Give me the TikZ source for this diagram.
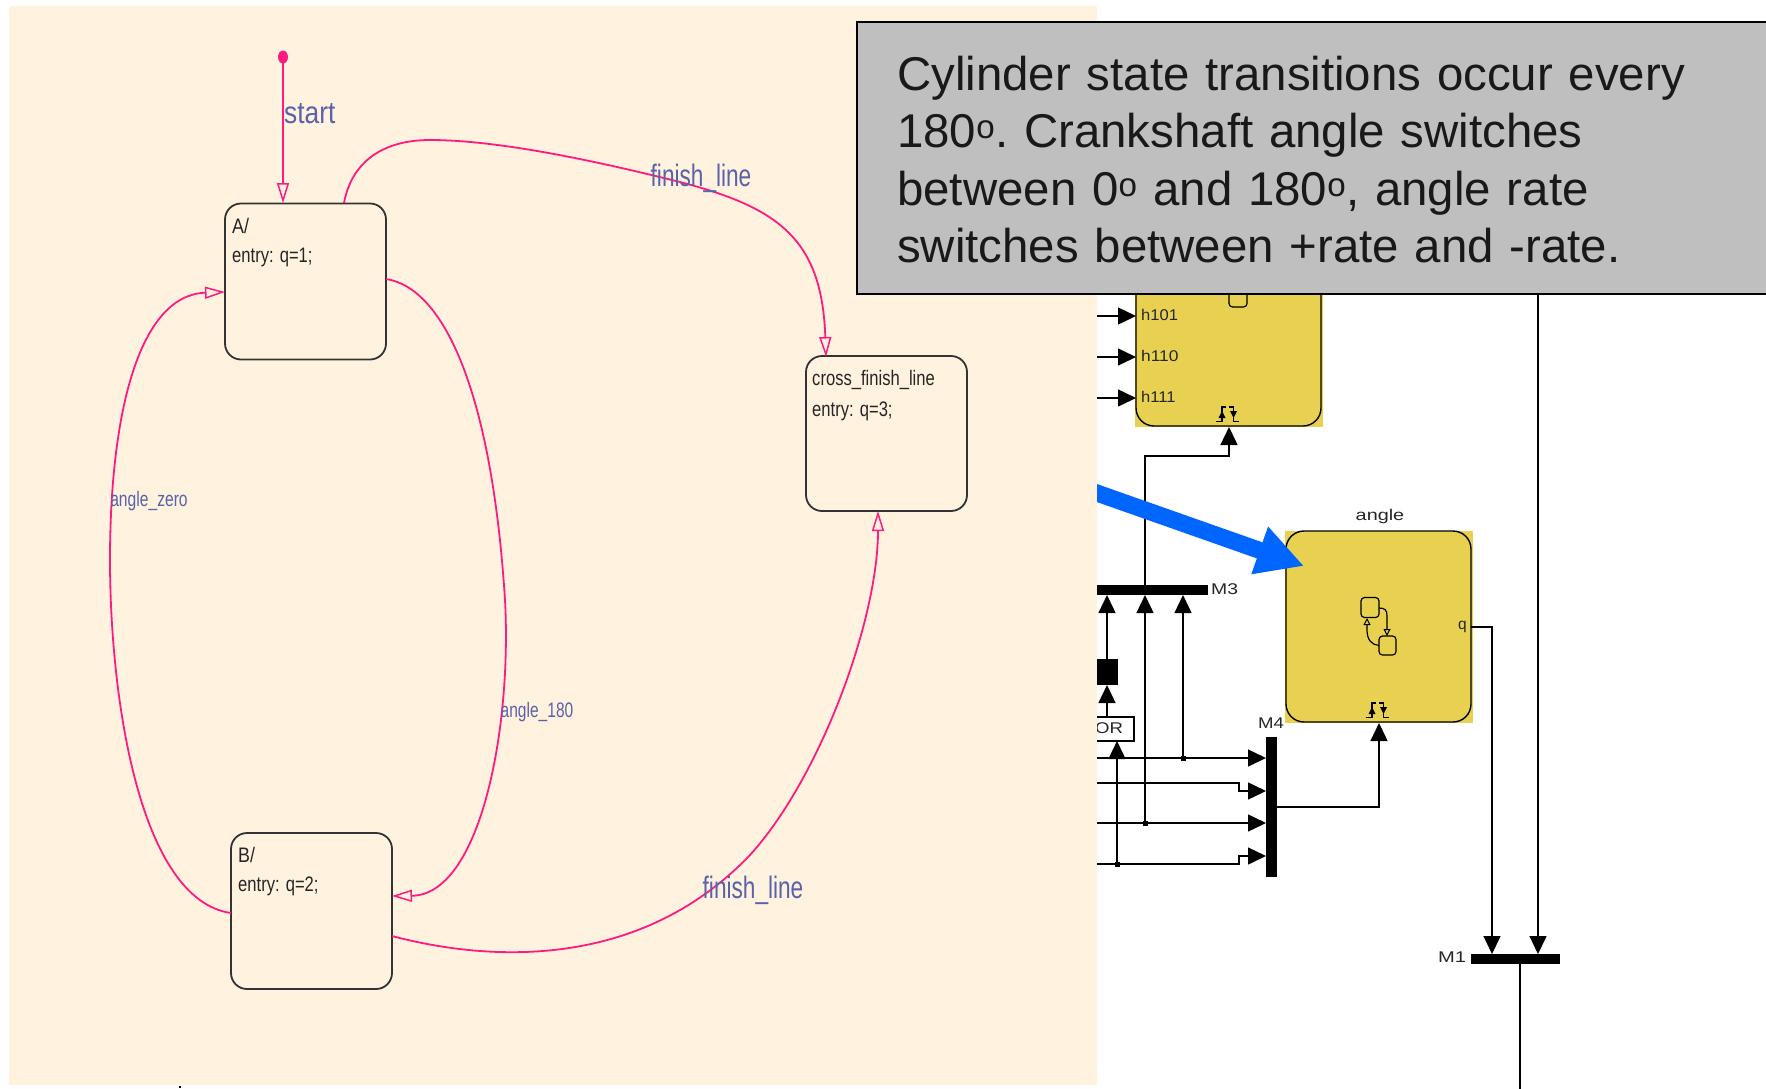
\documentclass[tikz,border=0pt]{standalone}
\usepackage{fontspec}
\setmainfont{Liberation Sans}
\usetikzlibrary{arrows.meta}
\definecolor{panel}{HTML}{FFF3E0}
\definecolor{blockyellow}{HTML}{E8D150}
\definecolor{boxgray}{HTML}{BFBFBF}
\definecolor{transpink}{HTML}{FF1A80}
\definecolor{labelblue}{HTML}{5A62A8}
\definecolor{bluearrow}{HTML}{0066FF}
\newcommand\squash[2][.73]{\scalebox{#1}[1]{#2}}
\tikzset{
  statebox/.style={draw=black!80,line width=1.8pt,rounded corners=16pt,minimum width=161pt,minimum height=156pt,outer sep=0pt,inner sep=0pt},
  trans/.style={draw=transpink,line width=1.8pt,-{Triangle[open,fill=panel,length=20pt,width=12pt,line width=1.5pt]}},
  translabel/.style={text=labelblue,font=\fontsize{31}{31}\selectfont,inner sep=0pt},
  smalllabel/.style={text=labelblue,font=\fontsize{21}{21}\selectfont,inner sep=0pt},
  statetext/.style={text=black!85,font=\fontsize{21}{21}\selectfont,inner sep=0pt,anchor=west},
  block/.style={draw=black,line width=1.4pt,fill=blockyellow,rounded corners=18pt,outer sep=0pt,inner sep=0pt},
  wire/.style={draw=black,line width=1.4pt},
  sig/.style={wire,-{Triangle[length=18pt,width=17pt]}},
  bar/.style={fill=black,inner sep=0pt,outer sep=0pt},
  simtext/.style={text=black!85,font=\fontsize{15.5}{15.5}\selectfont,inner sep=0pt},
  junction/.style={fill=black,inner sep=0pt,minimum size=5pt,outer sep=0pt},
  mini/.style={draw=black,line width=1.2pt,rounded corners=3.5pt,inner sep=0pt,outer sep=0pt},
  miniarrow/.style={draw=black,line width=1.2pt,-{Triangle[open,length=7pt,width=7pt,line width=1pt]}},
  trig/.pic={
    \draw[black,line width=1.5pt] (-11.5,14.5) -- (-5.5,14.5) -- (-5.5,0) -- (-1.5,0);
    \draw[black,line width=1.5pt] (1.5,0) -- (6,0) -- (6,14.5) -- (11.5,14.5);
    \fill[black] (-5.5,4) -- (-9,11) -- (-2,11) -- cycle;
    \fill[black] (6,11) -- (2.5,4) -- (9.5,4) -- cycle;
  },
}
\begin{document}
\begin{tikzpicture}[x=1pt,y=-1pt]
\useasboundingbox (0,0) rectangle (1766,1088);
\fill[white] (0,0) rectangle (1766,1088);

% ---- Simulink diagram, right part
\fill[blockyellow] (1135,240) rectangle (1323,427);
\node[block,minimum width=185pt,minimum height=186pt] (top) at (1228.5,333) {};
\node[mini,minimum width=18pt,minimum height=40pt] (topicon) at (1238,287) {};
\pic at (1227.5,407) {trig};
\node[simtext,anchor=west] (h101) at (1141,315) {\squash[1.07]{h101}};
\node[simtext,anchor=west] (h110) at (1141,356) {\squash[1.12]{h110}};
\node[simtext,anchor=west] (h111) at (1141,397) {\squash[1.07]{h111}};
\coordinate (in101) at (1080,316);
\coordinate (in110) at (1080,357);
\coordinate (in111) at (1080,398);
\coordinate (ph101) at (1136,316);
\coordinate (ph110) at (1136,357);
\coordinate (ph111) at (1136,398);
\draw[sig] (in101) -- (ph101);
\draw[sig] (in110) -- (ph110);
\draw[sig] (in111) -- (ph111);

\fill[blockyellow] (1285,531) rectangle (1473,723);
\node[block,minimum width=185pt,minimum height=191pt] (angle) at (1378.5,626.5) {};
\node[simtext] (anglelabel) at (1380,516) {\squash[1.28]{angle}};
\node[simtext,anchor=east] (q) at (1467,627) {q};
\pic at (1377.5,703) {trig};
\node[mini,minimum width=18pt,minimum height=20pt] (miniA) at (1370,607.5) {};
\node[mini,minimum width=17pt,minimum height=19pt] (miniB) at (1387.5,645.5) {};
\coordinate (miniAout) at (1379,608);
\coordinate (miniBin) at (1387,636);
\draw[miniarrow] (miniAout) .. controls (1385,608) and (1387,610) .. (1387,616) -- (miniBin);
\draw[miniarrow] (miniB.west) .. controls (1372,645) and (1367,640) .. (1367,630) -- (1367,618);

% M3
\node[bar,minimum width=141pt,minimum height=10pt] (M3) at (1137.5,590) {};
\node[simtext,anchor=west] (M3label) at (1211,589) {\squash[1.25]{M3}};
% M4
\node[bar,minimum width=11pt,minimum height=140pt] (M4) at (1271.5,807) {};
\node[simtext] (M4label) at (1271,723) {\squash[1.2]{M4}};
% M1
\node[bar,minimum width=89pt,minimum height=10pt] (M1) at (1515.5,959) {};
\node[simtext] (M1label) at (1452,957) {\squash[1.3]{M1}};
% black square and OR
\node[bar,minimum width=31pt,minimum height=26pt] (sq) at (1102.5,672) {};
\node[draw=black,line width=1.2pt,fill=white,minimum width=57pt,minimum height=24pt,inner sep=0pt,outer sep=0pt,font=\fontsize{15.5}{15.5}\selectfont,text=black!85] (OR) at (1105.5,729) {\raisebox{2pt}{\hspace*{7pt}\squash[1.2]{OR}}};

\coordinate (m3a) at (1107,595);
\coordinate (m3b) at (1145,595);
\coordinate (m3c) at (1183,595);
\coordinate (sqtop) at (1107,659);
\coordinate (sqbot) at (1107,685);
\coordinate (ortop) at (1107,717);
\coordinate (orbot) at (1117,741);
\draw[sig] (sqtop) -- (m3a);
\draw[sig] (ortop) -- (sqbot);

% into M4
\coordinate (w1) at (1080,758); \coordinate (w2) at (1080,783);
\coordinate (w3) at (1080,823); \coordinate (w4) at (1080,864);
\coordinate (p1) at (1266,758); \coordinate (p2) at (1266,791);
\coordinate (p3) at (1266,823); \coordinate (p4) at (1266,856);
\draw[sig] (w1) -- (p1);
\draw[sig] (w2) -| (1239,791) -- (p2);
\draw[sig] (w3) -- (p3);
\draw[sig] (w4) -| (1239,856) -- (p4);
\node[junction] (j1) at (1183,758) {};
\node[junction] (j3) at (1145,823) {};
\node[junction] (j4) at (1117,864) {};
\draw[sig] (j1) -- (m3c);
\draw[sig] (j3) -- (m3b);
\draw[sig] (j4) -- (orbot);

% M3 to top block trigger
\coordinate (toptrig) at (1229,427);
\coordinate (m3top) at (1145,585);
\draw[sig] (m3top) -- (1145,456) -| (toptrig);

% M4 to angle trigger
\coordinate (m4out) at (1277,807);
\coordinate (angletrig) at (1379,723);
\draw[sig] (m4out) -| (angletrig);

% angle q to M1
\coordinate (qout) at (1471,627);
\coordinate (m1a) at (1492,954);
\coordinate (m1b) at (1538,954);
\coordinate (fromtop) at (1538,280);
\coordinate (m1out) at (1520,1095);
\draw[sig] (qout) -| (m1a);
\draw[sig] (fromtop) -- (m1b);
\draw[wire] (m1out) -- (1520,964);

% blue arrow
\coordinate (bluestart) at (1060,480);
\coordinate (bluetip) at (1304,566);
\draw[draw=bluearrow,line width=17pt,-{Triangle[length=47pt,width=47pt,fill=bluearrow]}] (bluestart) -- (bluetip);

% ---- Left panel
\fill[panel] (9,6) rectangle (1097,1085);
\draw[black,line width=1.6pt] (180,1086) -- (180,1088);

\node[statebox,fill=panel] (A) at (305.5,281.5) {};
\node[statebox,fill=panel] (B) at (311.5,911) {};
\node[statebox,fill=panel,minimum height=155pt] (C) at (886.5,433.5) {};

\node[statetext] (Aname) at (232,226) {\squash[.85]{A/}};
\node[statetext] (Aentry) at (232,257) {\squash[.79]{entry: q=1;}};
\node[statetext] (Bname) at (238,855) {\squash[.85]{B/}};
\node[statetext] (Bentry) at (238,886) {\squash[.79]{entry: q=2;}};
\node[statetext] (Cname) at (812,380) {\squash[.79]{cross\_finish\_line}};
\node[statetext] (Centry) at (812,411) {\squash[.79]{entry: q=3;}};

\fill[transpink] (283,57) ellipse (5pt and 6.5pt);
\coordinate (startdot) at (283,57);
\coordinate (Atop) at (283,203);
\draw[trans] (startdot) -- (Atop);
\node[translabel,anchor=west] (startlabel) at (284,113.5) {\squash[.85]{start}};

\coordinate (Aout) at (344,203);
\coordinate (Cin) at (826,357);
\draw[trans] (Aout) .. controls (352,160) and (385,140) .. (430,140)
  .. controls (500,140) and (600,162) .. (680,182)
  .. controls (780,208) and (822,240) .. (Cin);
\node[translabel] (f1) at (701,178.5) {\squash{finish\_line}};

\coordinate (Aright) at (386,279);
\coordinate (Bin) at (392,896);
\draw[trans] (Aright) .. controls (445,288) and (492,395) .. (505,600)
  .. controls (512,730) and (480,895) .. (Bin);
\node[smalllabel] (a180) at (537,712) {\squash[.74]{angle\_180}};

\coordinate (Bleft) at (231,913);
\coordinate (Ain) at (225,292);
\draw[trans] (Bleft) .. controls (140,900) and (110,700) .. (110,560)
  .. controls (110,410) and (140,295) .. (Ain);
\node[smalllabel] (azero) at (149,501) {\squash[.745]{angle\_zero}};

\coordinate (Bright) at (392,936);
\coordinate (Cbot) at (878,511);
\draw[trans] (Bright) .. controls (490,962) and (640,970) .. (750,855)
  .. controls (820,778) and (878,620) .. (Cbot);
\node[translabel] (f2) at (753,890.5) {\squash{finish\_line}};

% ---- Note box
\node[draw=black,line width=2pt,fill=boxgray,anchor=north west,minimum width=925pt,minimum height=272pt,
  inner sep=0pt,outer sep=0pt] (note) at (857,22) {};
\node[anchor=west,inner sep=0pt,align=left,text=black!90,text width=845pt,font=\frenchspacing\fontsize{47.4}{57.5}\selectfont] (notetext) at (897,159.5)
  {Cylinder state transitions occur every\\180\textsuperscript{o}. Crankshaft angle switches\\between 0\textsuperscript{o} and 180\textsuperscript{o}, angle rate\\switches between +rate and -rate.};
\end{tikzpicture}
\end{document}
